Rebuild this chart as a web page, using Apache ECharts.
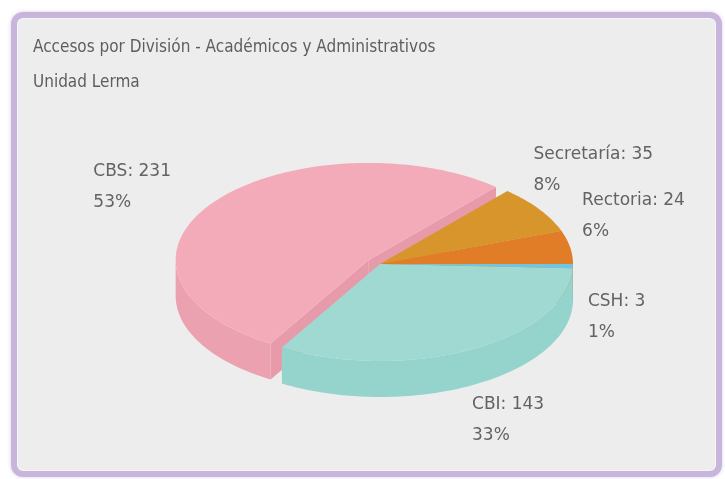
<!DOCTYPE html>
<html>
<head>
<meta charset="utf-8">
<script src="https://cdn.jsdelivr.net/npm/echarts@6/dist/echarts.min.js"></script>
<style>
  html, body { margin: 0; padding: 0; background: #ffffff; }
  .frame {
    position: absolute; left: 11px; top: 12px; width: 699px; height: 453px;
    border: 6px solid #c8b5dc; border-radius: 12px; background: #ededed;
    box-shadow: 0 0 4px #ddd2ea, inset 0 0 0 1px #f7f4fa;
  }
  #chart { position: absolute; left: 0; top: 0; width: 725px; height: 479px; }
</style>
</head>
<body>
<div class="frame"></div>
<div id="chart"></div>
<script>
// slices in clockwise order, starting at 3 o'clock
const categories = ['CSH', 'CBI', 'CBS', 'Secretaría', 'Rectoria'];
const values = [3, 143, 231, 35, 24];

// look & layout
const explode = [0, 0, 14, 0, 0];
const topColors = ['#6fc6e2', '#9fd9d1', '#f4abb9', '#d8952c', '#e07d26'];
const sideColors = ['#62bcda', '#94d4cc', '#eca1b0', '#c48424', '#d27220'];
const faceColors = ['#66bfdc', '#97d6ce', '#e79aaa', '#c98a27', '#d5731f'];
const labelNudge = [[15, 51], [0, 71], [-119, -16], [-6, -39], [12, -31]];

const CX = 380, CY = 264, RX = 193, RY = 97, DEPTH = 36;
const TEXT_FONT = "'DejaVu Sans', Verdana, sans-serif";
const TITLE_FONT = "'DejaVu Sans Condensed', 'Liberation Sans Narrow', 'Open Sans', sans-serif";

const total = values.reduce((s, v) => s + v, 0);
const starts = [];
values.reduce((acc, v) => { starts.push(acc); return acc + v / total * Math.PI * 2; }, 0);

function offsetOf(i) {
  const mid = starts[i] + values[i] / total * Math.PI;
  return [explode[i] * Math.cos(mid), explode[i] * Math.sin(mid) * 0.5];
}

function pt(a, off, dy) {
  return [CX + off[0] + RX * Math.cos(a), CY + off[1] + RY * Math.sin(a) + (dy || 0)];
}

function arc(a0, a1, off, dy) {
  const pts = [];
  const n = Math.max(2, Math.ceil(Math.abs(a1 - a0) / 0.02));
  for (let k = 0; k <= n; k++) pts.push(pt(a0 + (a1 - a0) * k / n, off, dy));
  return pts;
}

function renderItem(params, api) {
  const i = params.dataIndex;
  const a0 = starts[i];
  const a1 = a0 + api.value(0) / total * Math.PI * 2;
  const off = offsetOf(i);
  const c = [CX + off[0], CY + off[1]];
  const children = [];

  // outer wall, only the part facing the viewer
  const f0 = Math.max(a0, 0), f1 = Math.min(a1, Math.PI);
  if (f1 > f0) {
    const pts = arc(f0, f1, off, 0).concat(arc(f1, f0, off, DEPTH));
    children.push({ type: 'polygon', z2: 3, shape: { points: pts },
      style: { fill: sideColors[i] } });
  }
  // radial cut faces
  [[a0, Math.sin(a0 - Math.PI / 2)], [a1, Math.sin(a1 + Math.PI / 2)]].forEach(([a, s]) => {
    if (s > 0.05) {
      const p = pt(a, off, 0);
      children.push({ type: 'polygon', z2: 2, shape: { points: [c, p, [p[0], p[1] + DEPTH], [c[0], c[1] + DEPTH]] },
        style: { fill: faceColors[i] } });
    }
  });
  // top face
  children.push({ type: 'polygon', z2: 10, shape: { points: [c].concat(arc(a0, a1, off, 0)) },
    style: { fill: topColors[i] } });

  // label
  const mid = (a0 + a1) / 2;
  const rim = pt(mid, off, 0);
  const pct = Math.round(api.value(0) / total * 100);
  children.push({ type: 'text', z2: 20,
    x: rim[0] + labelNudge[i][0], y: rim[1] + labelNudge[i][1],
    style: { text: categories[i] + ': ' + api.value(0) + '\n' + pct + '%',
      fill: '#636363', font: '17px ' + TEXT_FONT, lineHeight: 31,
      align: 'left', verticalAlign: 'middle' } });

  return { type: 'group', children: children };
}

const chart = echarts.init(document.getElementById('chart'), null, { renderer: 'canvas' });
chart.setOption({
  animation: false,
  title: {
    text: 'Accesos por División - Académicos y Administrativos',
    subtext: 'Unidad Lerma',
    left: 33, top: 39, padding: 0, itemGap: 18,
    textStyle: { fontSize: 17, fontWeight: 'normal', color: '#5e5e5e', fontFamily: TITLE_FONT },
    subtextStyle: { fontSize: 17, color: '#5e5e5e', fontFamily: TITLE_FONT }
  },
  series: [{
    type: 'custom',
    coordinateSystem: 'none',
    renderItem: renderItem,
    data: values.map((v, i) => ({ name: categories[i], value: [v] }))
  }]
});
</script>
</body>
</html>
